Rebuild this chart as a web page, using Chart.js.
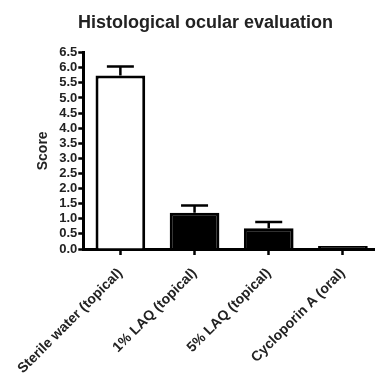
<!DOCTYPE html>
<html>
<head>
<meta charset="utf-8">
<script src="https://cdn.jsdelivr.net/npm/chart.js@4/dist/chart.umd.min.js"></script>
<style>
  html, body { margin: 0; padding: 0; background: #fff; overflow: hidden; }
  #wrap { width: 380px; height: 376px; }
</style>
</head>
<body>
<div id="wrap"><canvas id="chart"></canvas></div>
<script>
const groups = ["Sterile water (topical)", "1% LAQ (topical)", "5% LAQ (topical)", "Cycloporin A (oral)"];
const scores = [5.74, 1.2, 0.69, 0.1];
const errors = [0.3, 0.24, 0.2, 0];
const fills = ["#ffffff", "#000000", "#000000", "#000000"];

// draws the upper error bar (stem + cap) above each bar
const errorBars = {
  id: "errorBars",
  afterDatasetsDraw(chart) {
    const ctx = chart.ctx;
    const x = chart.scales.x;
    const y = chart.scales.y;
    ctx.save();
    ctx.strokeStyle = "#000";
    ctx.lineWidth = 2.5;
    scores.forEach((v, i) => {
      if (!errors[i]) return;
      const cx = x.getPixelForValue(i);
      const top = y.getPixelForValue(v + errors[i]);
      const base = y.getPixelForValue(v);
      ctx.beginPath();
      ctx.moveTo(cx, base);
      ctx.lineTo(cx, top);
      ctx.moveTo(cx - 13.5, top);
      ctx.lineTo(cx + 13.5, top);
      ctx.stroke();
    });
    ctx.restore();
  }
};

let chart = new Chart(document.querySelector("#chart"), {
  type: "bar",
  data: {
    labels: groups,
    datasets: [{
      data: scores,
      backgroundColor: fills,
      borderColor: "#000",
      borderWidth: 3,
      barPercentage: 0.67,
      categoryPercentage: 1
    }]
  },
  options: {
    responsive: true,
    maintainAspectRatio: false,
    animation: false,
    layout: { padding: { top: 12, left: 31, right: 0, bottom: 0 } },
    plugins: {
      legend: { display: false },
      tooltip: { enabled: false },
      title: {
        display: true,
        text: "Histological ocular evaluation",
        color: "#222",
        font: { family: "Liberation Sans, Arial, sans-serif", size: 18, weight: "bold" },
        padding: { top: 0, bottom: 19 }
      }
    },
    scales: {
      x: {
        offset: true,
        afterFit: (s) => { s.height = 127; },
        grid: { display: true, offset: false, drawOnChartArea: false, drawTicks: true, tickLength: 6, tickWidth: 2.5, tickColor: "#000" },
        border: { display: true, color: "#000", width: 3 },
        ticks: {
          color: "#222",
          minRotation: 45,
          maxRotation: 45,
          autoSkip: false,
          padding: 10,
          font: { family: "Liberation Sans, Arial, sans-serif", size: 14, weight: "bold" }
        }
      },
      y: {
        min: 0,
        max: 6.5,
        afterFit: (s) => { s.width = 51; },
        grid: { display: true, drawOnChartArea: false, drawTicks: true, tickLength: 5, tickWidth: 2.5, tickColor: "#000" },
        border: { display: true, color: "#000", width: 3 },
        ticks: {
          stepSize: 0.5,
          autoSkip: false,
          color: "#222",
          padding: 1,
          callback: (v) => v.toFixed(1),
          font: { family: "Liberation Sans, Arial, sans-serif", size: 13, weight: "bold" }
        },
        title: {
          display: true,
          text: "Score",
          color: "#222",
          padding: { top: 2, bottom: 6 },
          font: { family: "Liberation Sans, Arial, sans-serif", size: 14, weight: "bold" }
        }
      }
    }
  },
  plugins: [errorBars]
});
</script>
</body>
</html>
